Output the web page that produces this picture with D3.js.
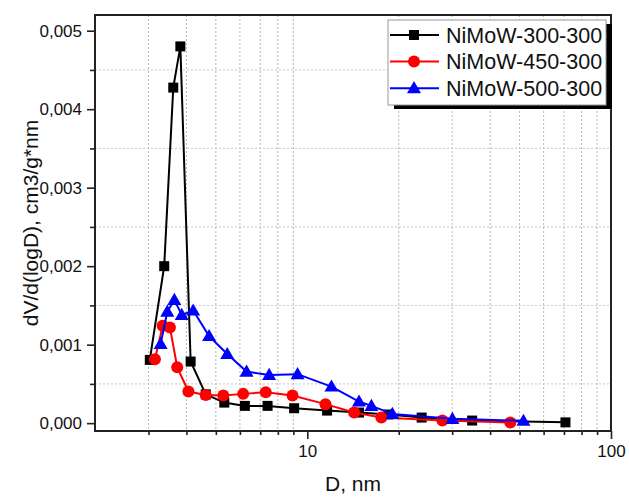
<!DOCTYPE html>
<html>
<head>
<meta charset="utf-8">
<script src="https://cdn.jsdelivr.net/npm/d3@7"></script>
<style>
  html, body { margin: 0; padding: 0; background: #fff; }
  svg { display: block; font-family: "Liberation Sans", Arial, sans-serif; }
</style>
</head>
<body>
<svg id="chart" width="629" height="497"></svg>
<script>
// ---- data ----
const seriesNames = ["NiMoW-300-300", "NiMoW-450-300", "NiMoW-500-300"];
const seriesColors = ["#000000", "#ff0000", "#0000ff"];
const seriesMarkers = ["square", "circle", "triangle"];

const d300 = [3.03, 3.38, 3.62, 3.82, 4.13, 4.63, 5.33, 6.23, 7.40, 9.05, 11.62, 14.8, 18.5, 23.8, 34.9, 70.8];
const v300 = [0.000806, 0.002, 0.004275, 0.0048, 0.000785, 0.000367, 0.000262, 0.00022, 0.00022, 0.00019, 0.00016, 0.000135, 0.00011, 0.000071, 0.000033, 0.00001];

const d450 = [3.15, 3.34, 3.53, 3.73, 4.06, 4.63, 5.29, 6.15, 7.30, 8.94, 11.48, 14.26, 17.54, 27.85, 46.6];
const v450 = [0.000815, 0.00124, 0.00122, 0.000713, 0.000403, 0.00036, 0.000352, 0.000373, 0.000395, 0.000352, 0.000242, 0.000135, 0.000071, 0.000033, 0.000008];

const d500 = [3.29, 3.46, 3.65, 3.86, 4.21, 4.75, 5.45, 6.31, 7.49, 9.29, 12.01, 14.8, 16.26, 19.06, 30.05, 51.5];
const v500 = [0.00101, 0.00142, 0.00157, 0.00138, 0.001435, 0.00111, 0.00088, 0.000657, 0.000615, 0.000624, 0.000466, 0.000275, 0.00022, 0.000118, 0.000055, 0.00003];

const xMajorTicks = [10, 100];
const xMinorTicks = [3, 4, 5, 6, 7, 8, 9, 20, 30, 40, 50, 60, 70, 80, 90];
const yMajorTicks = [0, 0.001, 0.002, 0.003, 0.004, 0.005];
const yMinorTicks = [0.0005, 0.0015, 0.0025, 0.0035, 0.0045];

const xTitle = "D, nm";
const yTitle = "dV/d(logD), cm3/g*nm";

// ---- layout ----
const L = 95, R = 611, T = 15, B = 431;
const svg = d3.select("#chart");
const x = d3.scaleLog().domain([2, 100]).range([L, R]);
const y = d3.scaleLinear().domain([-0.0001, 0.0052]).range([B, T]);
const fmtY = v => d3.format(".3f")(v).replace(".", ",");

// grid (dotted, at minor positions)
const grid = svg.append("g");
grid.selectAll("line.vx").data(xMinorTicks).enter().append("line")
  .attr("x1", d => x(d)).attr("x2", d => x(d)).attr("y1", T).attr("y2", B)
  .attr("stroke", "#b8b8b8").attr("stroke-width", 1).attr("stroke-dasharray", "2,2");
grid.selectAll("line.hy").data(yMinorTicks).enter().append("line")
  .attr("x1", L).attr("x2", R).attr("y1", d => y(d)).attr("y2", d => y(d))
  .attr("stroke", "#c8c8c8").attr("stroke-width", 1).attr("stroke-dasharray", "2,2");

// axes
const xAxisMajor = d3.axisBottom(x).tickValues(xMajorTicks).tickFormat(d3.format("d")).tickSize(8).tickPadding(6);
const xAxisMinor = d3.axisBottom(x).tickValues(xMinorTicks).tickFormat("").tickSize(4);
const yAxisMajor = d3.axisLeft(y).tickValues(yMajorTicks).tickFormat(fmtY).tickSize(8).tickPadding(5);
const yAxisMinor = d3.axisLeft(y).tickValues(yMinorTicks).tickFormat("").tickSize(5);

function styleAxis(g) {
  g.select(".domain").remove();
  g.selectAll("line").attr("stroke", "#222").attr("stroke-width", 1.6);
  g.selectAll("text").attr("font-size", 17).attr("fill", "#111")
    .attr("font-family", "'Liberation Sans', Arial, sans-serif");
}
svg.append("g").attr("transform", `translate(0,${B})`).call(xAxisMinor).call(styleAxis);
svg.append("g").attr("transform", `translate(0,${B})`).call(xAxisMajor).call(styleAxis);
svg.append("g").attr("transform", `translate(${L},0)`).call(yAxisMinor).call(styleAxis);
svg.append("g").attr("transform", `translate(${L},0)`).call(yAxisMajor).call(styleAxis);

// frame
svg.append("rect").attr("x", L).attr("y", T).attr("width", R - L).attr("height", B - T)
  .attr("fill", "none").attr("stroke", "#222").attr("stroke-width", 2);

// titles
svg.append("text").attr("x", (L + R) / 2).attr("y", 491).attr("text-anchor", "middle")
  .attr("font-size", 21).attr("fill", "#111").text(xTitle);
svg.append("text").attr("transform", `translate(38,${(T + B) / 2}) rotate(-90)`)
  .attr("text-anchor", "middle").attr("font-size", 21).attr("fill", "#111").text(yTitle);

// markers
function drawMarker(g, type, cx, cy, color) {
  if (type === "square") {
    g.append("rect").attr("x", cx - 5).attr("y", cy - 5).attr("width", 10).attr("height", 10).attr("fill", color);
  } else if (type === "circle") {
    g.append("circle").attr("cx", cx).attr("cy", cy).attr("r", 6).attr("fill", color);
  } else {
    const s = d3.symbol().type(d3.symbolTriangle).size(85);
    g.append("path").attr("d", s()).attr("transform", `translate(${cx},${cy + 1})`).attr("fill", color);
  }
}

const allSeries = [[d300, v300], [d450, v450], [d500, v500]];
allSeries.forEach(([ds, vs], i) => {
  const pts = ds.map((d, k) => [d, vs[k]]);
  const g = svg.append("g");
  g.append("path").datum(pts)
    .attr("d", d3.line().x(p => x(p[0])).y(p => y(p[1])))
    .attr("fill", "none").attr("stroke", seriesColors[i]).attr("stroke-width", 2);
  pts.forEach(p => drawMarker(g, seriesMarkers[i], x(p[0]), y(p[1]), seriesColors[i]));
});

// legend
const lg = svg.append("g");
const lx = 388, ly = 20, lw = 218, lh = 85;
lg.append("rect").attr("x", lx + 6).attr("y", ly + 4).attr("width", lw).attr("height", lh).attr("fill", "#000");
lg.append("rect").attr("x", lx).attr("y", ly).attr("width", lw).attr("height", lh)
  .attr("fill", "#fff").attr("stroke", "#999").attr("stroke-width", 1);
seriesNames.forEach((name, i) => {
  const cy = 35 + i * 26.6;
  lg.append("line").attr("x1", 390).attr("x2", 439).attr("y1", cy).attr("y2", cy)
    .attr("stroke", seriesColors[i]).attr("stroke-width", 2);
  drawMarker(lg, seriesMarkers[i], 414, cy, seriesColors[i]);
  lg.append("text").attr("x", 446).attr("y", cy + 7.5).attr("font-size", 21.5).attr("fill", "#111").text(name);
});
</script>
</body>
</html>
